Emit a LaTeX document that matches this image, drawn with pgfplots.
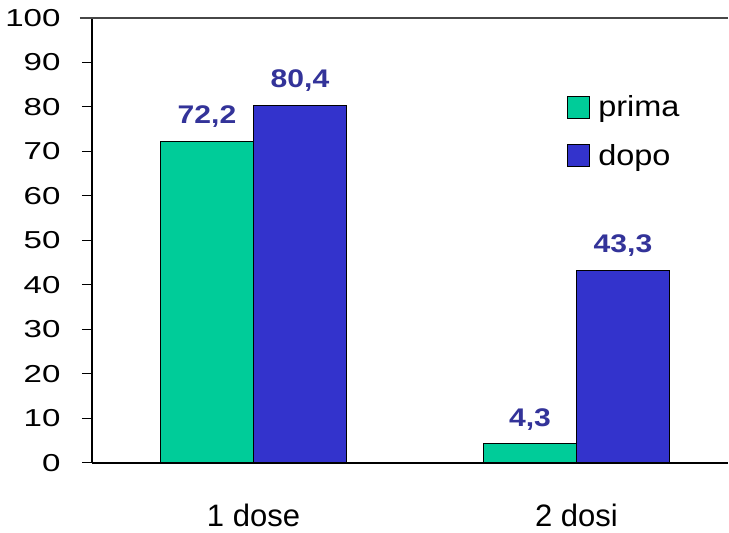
\documentclass[border=0pt]{standalone}
\usepackage{fontspec}
\setmainfont{Liberation Sans}
\newfontfamily\tickfont{Liberation Sans}[FakeStretch=1.35]
\newfontfamily\legfont{Liberation Sans}[FakeStretch=1.12]
\newfontfamily\valfont{Liberation Sans}[FakeStretch=1.18]
\usepackage{pgfplots}
\pgfplotsset{compat=1.18}
\definecolor{cprima}{HTML}{00CC99}
\definecolor{cdopo}{HTML}{3333CC}
\definecolor{clab}{HTML}{333399}
\begin{document}
\begin{tikzpicture}
\begin{axis}[
  scale only axis,
  width=636bp, height=445bp,
  xmin=0, xmax=1.969,
  ymin=0, ymax=100,
  axis x line*=bottom, axis y line*=left,
  axis line style={line width=1.3pt, -},
  ybar=0pt, bar width=93bp,
  ytick={0,10,...,100},
  xtick={0.5,1.5}, xticklabels={1 dose,2 dosi},
  minor xtick={0,1},
  xtick style={draw=none},
  minor x tick style={line width=1pt, black},
  ytick style={line width=1pt, black},
  tick align=outside,
  major tick length=10bp, minor tick length=10bp,
  /pgf/number format/assume math mode=true,
  yticklabel style={font=\tickfont\fontsize{24.5bp}{28bp}\selectfont, xshift=-18bp},
  xticklabel style={font=\fontsize{31bp}{34bp}\selectfont, inner sep=0pt, text depth=0pt, yshift=-31bp},
  nodes near coords={\pgfmathprintnumber[fixed,fixed zerofill,precision=1,use comma]{\pgfplotspointmeta}},
  nodes near coords style={font=\valfont\bfseries\fontsize{25.5bp}{28bp}\selectfont, text=clab, anchor=south, yshift=10bp},
  legend style={draw=none, fill=none, at={(rel axis cs:0.747,0.830)}, anchor=north west,
    font=\legfont\fontsize{29bp}{31bp}\selectfont, row sep=22bp, inner sep=0pt},
  legend cell align=left,
  legend image code/.code={\draw[#1, line width=1pt] (0bp,-11bp) rectangle (22bp,11bp); \path (28bp,0bp);},
  clip=false,
]
\addplot[fill=cprima, draw=black, line width=1pt] coordinates {(0.5,72.2) (1.5,4.3)};
\addplot[fill=cdopo, draw=black, line width=1pt] coordinates {(0.5,80.4) (1.5,43.3)};
\legend{prima,dopo}
\draw[black!72, line width=1.4pt] (axis cs:0,100) ++(-12bp,0) -- (rel axis cs:1,1);
\coordinate (bl) at (rel axis cs:-0.14465,-0.1573);
\coordinate (tr) at (rel axis cs:1.00157,1.0404);
\end{axis}
\pgfresetboundingbox
\useasboundingbox (bl) rectangle (tr);
\end{tikzpicture}
\end{document}
